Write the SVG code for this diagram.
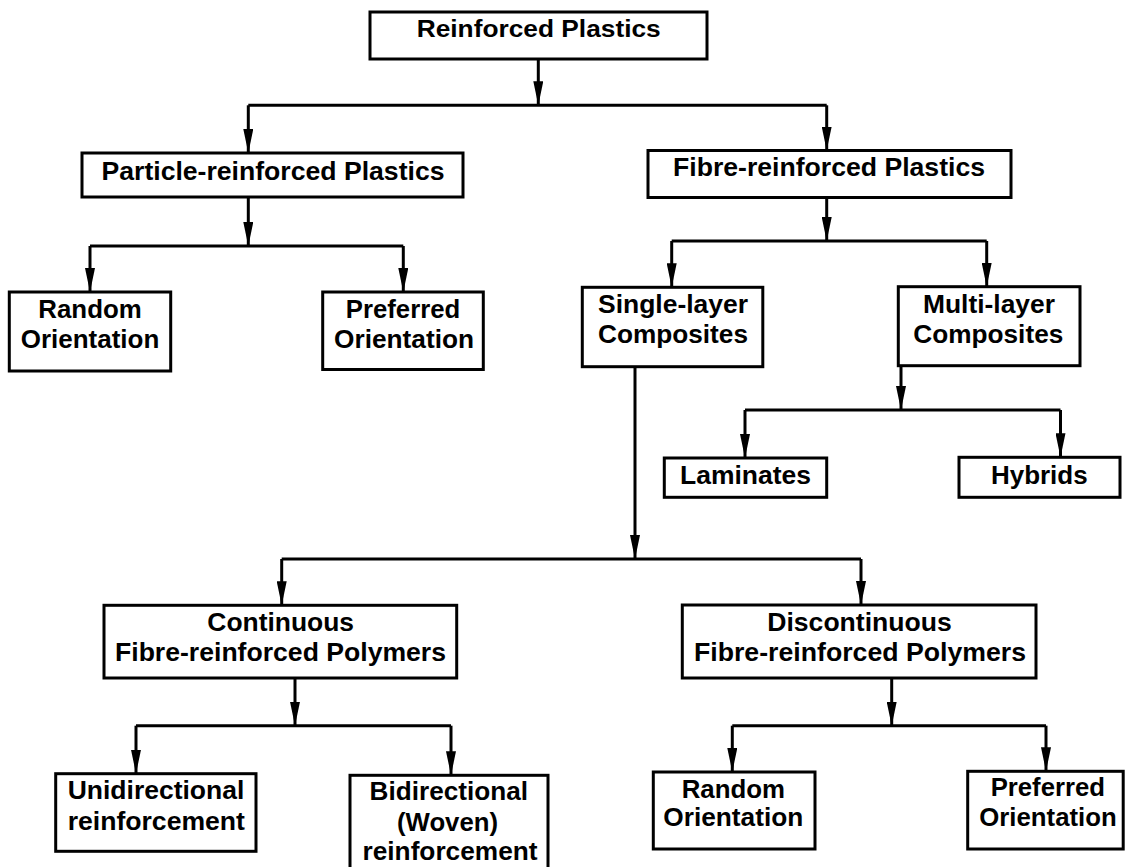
<svg xmlns="http://www.w3.org/2000/svg" width="1125" height="867" viewBox="0 0 1125 867">
<defs>
<style>
.box{fill:#fff;stroke:#000;stroke-width:3}
.t{font-family:"Liberation Sans",Arial,Helvetica,sans-serif;font-weight:bold;font-size:25px;fill:#000;text-anchor:middle}
.top{font-size:23px}
.c{fill:none;stroke:#000;stroke-width:3;stroke-linejoin:miter}
</style>
<marker id="ah" markerUnits="userSpaceOnUse" markerWidth="24" markerHeight="10" refX="24" refY="5" orient="auto" viewBox="0 0 24 10">
<path d="M0,0 L24,5 L0,10 Z" fill="#000"/>
</marker>
</defs>
<rect width="1125" height="867" fill="#fff"/>
<g id="connectors">
<path class="c" d="M538.3,59.3 V105.3" marker-end="url(#ah)"/>
<path class="c" d="M248.3,105.3 H826.7"/>
<path class="c" d="M248.3,105.3 V153" marker-end="url(#ah)"/>
<path class="c" d="M826.7,105.3 V150.5" marker-end="url(#ah)"/>
<path class="c" d="M248.3,197 V246" marker-end="url(#ah)"/>
<path class="c" d="M90,246 H403.3"/>
<path class="c" d="M90,246 V292" marker-end="url(#ah)"/>
<path class="c" d="M403.3,246 V292" marker-end="url(#ah)"/>
<path class="c" d="M826.7,197.5 V241" marker-end="url(#ah)"/>
<path class="c" d="M671.7,241 H986.7"/>
<path class="c" d="M671.7,241 V287.3" marker-end="url(#ah)"/>
<path class="c" d="M986.7,241 V286.7" marker-end="url(#ah)"/>
<path class="c" d="M901,365.7 V410" marker-end="url(#ah)"/>
<path class="c" d="M745,410 H1060.5"/>
<path class="c" d="M745,410 V458" marker-end="url(#ah)"/>
<path class="c" d="M1060.5,410 V457.3" marker-end="url(#ah)"/>
<path class="c" d="M635,366.7 V559" marker-end="url(#ah)"/>
<path class="c" d="M281.7,559 H861"/>
<path class="c" d="M281.7,559 V605.3" marker-end="url(#ah)"/>
<path class="c" d="M861,559 V605" marker-end="url(#ah)"/>
<path class="c" d="M295,678 V725.7" marker-end="url(#ah)"/>
<path class="c" d="M136,725.7 H451"/>
<path class="c" d="M136,725.7 V773.7" marker-end="url(#ah)"/>
<path class="c" d="M451,725.7 V775.3" marker-end="url(#ah)"/>
<path class="c" d="M891.7,678 V725.7" marker-end="url(#ah)"/>
<path class="c" d="M732.3,725.7 H1046"/>
<path class="c" d="M732.3,725.7 V772" marker-end="url(#ah)"/>
<path class="c" d="M1046,725.7 V771.3" marker-end="url(#ah)"/>
</g>
<g id="reinforced">
<rect class="box" x="370" y="12" width="337" height="47"/>
<text class="t top" x="538.7" y="37" textLength="244" lengthAdjust="spacingAndGlyphs">Reinforced Plastics</text>
</g>
<g id="particle">
<rect class="box" x="82" y="153" width="381" height="44"/>
<text class="t" x="273" y="180" textLength="343" lengthAdjust="spacingAndGlyphs">Particle-reinforced Plastics</text>
</g>
<g id="fibre">
<rect class="box" x="648" y="150.5" width="363" height="47"/>
<text class="t" x="829" y="176" textLength="312" lengthAdjust="spacingAndGlyphs">Fibre-reinforced Plastics</text>
</g>
<g id="random1">
<rect class="box" x="9.3" y="292" width="161.4" height="79"/>
<text class="t" x="90" y="318.3" textLength="103.4" lengthAdjust="spacingAndGlyphs">Random</text>
<text class="t" x="90" y="348.3" textLength="138.6" lengthAdjust="spacingAndGlyphs">Orientation</text>
</g>
<g id="preferred1">
<rect class="box" x="322.7" y="292" width="160.6" height="77.5"/>
<text class="t" x="403" y="318" textLength="114.3" lengthAdjust="spacingAndGlyphs">Preferred</text>
<text class="t" x="404" y="348" textLength="140" lengthAdjust="spacingAndGlyphs">Orientation</text>
</g>
<g id="single">
<rect class="box" x="582.3" y="287.3" width="180.5" height="79.4"/>
<text class="t" x="673" y="313.3" textLength="150" lengthAdjust="spacingAndGlyphs">Single-layer</text>
<text class="t" x="673" y="343.3" textLength="150" lengthAdjust="spacingAndGlyphs">Composites</text>
</g>
<g id="multi">
<rect class="box" x="898.3" y="286.7" width="181.7" height="79"/>
<text class="t" x="989" y="313.3" textLength="132" lengthAdjust="spacingAndGlyphs">Multi-layer</text>
<text class="t" x="988.3" y="343.3" textLength="150" lengthAdjust="spacingAndGlyphs">Composites</text>
</g>
<g id="laminates">
<rect class="box" x="664.3" y="458" width="162.4" height="39.3"/>
<text class="t" x="745.5" y="484" textLength="131" lengthAdjust="spacingAndGlyphs">Laminates</text>
</g>
<g id="hybrids">
<rect class="box" x="959" y="457.3" width="161" height="40"/>
<text class="t" x="1039.3" y="483.5" textLength="96.7" lengthAdjust="spacingAndGlyphs">Hybrids</text>
</g>
<g id="continuous">
<rect class="box" x="104" y="605.3" width="352.7" height="72.7"/>
<text class="t" x="280.7" y="631.3" textLength="146.7" lengthAdjust="spacingAndGlyphs">Continuous</text>
<text class="t" x="280.5" y="661.3" textLength="331" lengthAdjust="spacingAndGlyphs">Fibre-reinforced Polymers</text>
</g>
<g id="discontinuous">
<rect class="box" x="682.3" y="605" width="353.7" height="73"/>
<text class="t" x="859.5" y="630.5" textLength="184.4" lengthAdjust="spacingAndGlyphs">Discontinuous</text>
<text class="t" x="860" y="661.3" textLength="332" lengthAdjust="spacingAndGlyphs">Fibre-reinforced Polymers</text>
</g>
<g id="unidirectional">
<rect class="box" x="55.7" y="773.7" width="200.3" height="77.6"/>
<text class="t" x="156" y="798.7" textLength="176.6" lengthAdjust="spacingAndGlyphs">Unidirectional</text>
<text class="t" x="156.3" y="829.7" textLength="177.3" lengthAdjust="spacingAndGlyphs">reinforcement</text>
</g>
<g id="bidirectional">
<rect class="box" x="350" y="775.3" width="198" height="100"/>
<text class="t" x="448.8" y="799.7" textLength="158.4" lengthAdjust="spacingAndGlyphs">Bidirectional</text>
<text class="t" x="447.5" y="831.3" textLength="101" lengthAdjust="spacingAndGlyphs">(Woven)</text>
<text class="t" x="450" y="860" textLength="175" lengthAdjust="spacingAndGlyphs">reinforcement</text>
</g>
<g id="random2">
<rect class="box" x="653.3" y="772" width="161.7" height="77"/>
<text class="t" x="733.3" y="798" textLength="103.3" lengthAdjust="spacingAndGlyphs">Random</text>
<text class="t" x="733.3" y="826.3" textLength="140" lengthAdjust="spacingAndGlyphs">Orientation</text>
</g>
<g id="preferred2">
<rect class="box" x="967.7" y="771.3" width="155.5" height="77.7"/>
<text class="t" x="1047.8" y="795.7" textLength="114.3" lengthAdjust="spacingAndGlyphs">Preferred</text>
<text class="t" x="1048" y="826.3" textLength="137.4" lengthAdjust="spacingAndGlyphs">Orientation</text>
</g>
</svg>
